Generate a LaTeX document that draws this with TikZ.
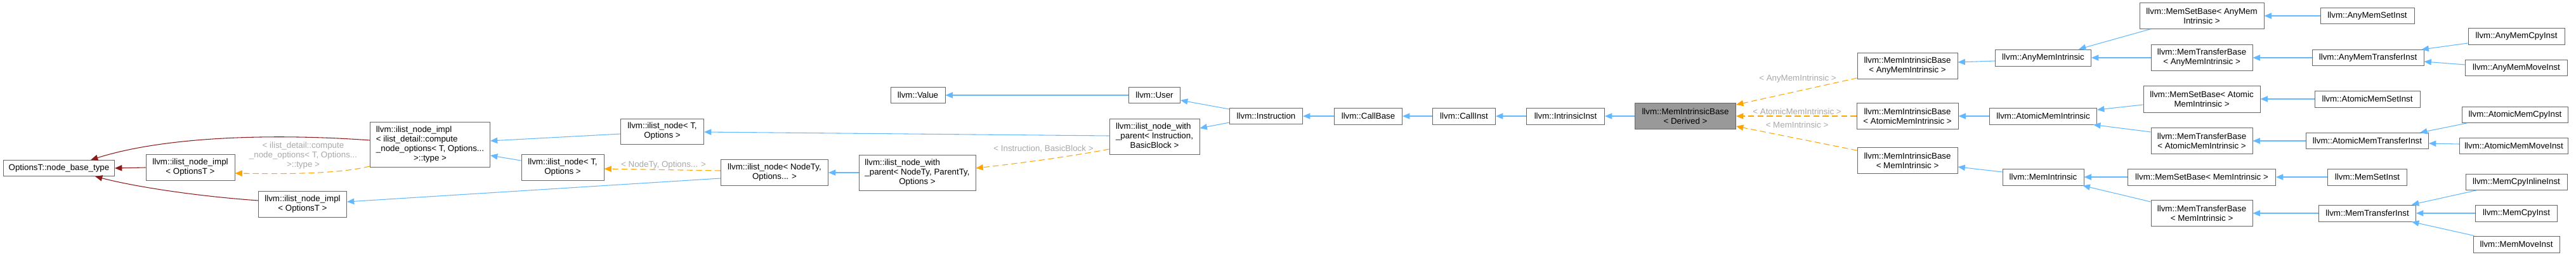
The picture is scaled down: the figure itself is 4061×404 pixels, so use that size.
\documentclass[tikz,border=0pt]{standalone}
\usepackage{fontspec}
\setmainfont{Liberation Sans}
\usetikzlibrary{arrows.meta,calc}
\definecolor{edgeblue}{HTML}{63B8FF}
\definecolor{edgeorange}{HTML}{FFA500}
\definecolor{edgered}{HTML}{8B1A1A}
\definecolor{boxborder}{HTML}{666666}
\definecolor{boxfill}{HTML}{999999}
\definecolor{labelgray}{HTML}{A8A8A8}
\newcommand{\lefttab}[2]{\begin{tabular}{@{}l@{}}#1\\\multicolumn{1}{@{}c@{}}{#2}\end{tabular}}
\begin{document}
\begin{tikzpicture}[x=0.75pt,y=-0.75pt,
  font=\fontsize{10pt}{11.25pt}\selectfont,
  cls/.style={draw=boxborder, line width=0.75pt, fill=white, inner sep=0pt, align=center},
  sz/.style 2 args={minimum width={#1*0.75pt}, minimum height={#2*0.75pt}},
  focus/.style={fill=boxfill},
  pub/.style={draw=edgeblue, line width=0.8pt, -{Triangle[length=8.5pt,width=7pt]}},
  tmpl/.style={draw=edgeorange, line width=0.8pt, dash pattern=on 7pt off 4pt, -{Triangle[length=8.5pt,width=7pt]}},
  prot/.style={draw=edgered, line width=0.8pt, -{Triangle[length=8.5pt,width=7pt]}},
  lbl/.style={text=labelgray, align=center, inner sep=0pt},
]
\useasboundingbox (0,0) rectangle (4061,404);

% ---- left part ----
\node[cls, sz={175}{25}] (optT) at (93,265) {OptionsT::node\_base\_type};
\node[cls, sz={140}{41}] (implA) at (300,264) {llvm::ilist\_node\_impl\\< OptionsT >};
\node[cls, sz={139}{41}] (implB) at (477,322) {llvm::ilist\_node\_impl\\< OptionsT >};
\node[cls, sz={189}{71}] (implC) at (678,228) {\lefttab{llvm::ilist\_node\_impl\\< ilist\_detail::compute\\\_node\_options< T, Options...}{>::type >}};
\node[cls, sz={131}{40}] (nodeA) at (1044,207) {llvm::ilist\_node< T,\\Options >};
\node[cls, sz={130}{41}] (nodeB) at (887,264) {llvm::ilist\_node< T,\\Options >};
\node[cls, sz={169}{41}] (nodeNT) at (1221,272) {llvm::ilist\_node< NodeTy,\\Options... >};
\node[cls, sz={184}{56}] (wpNT) at (1446,272) {\lefttab{llvm::ilist\_node\_with\\\_parent< NodeTy, ParentTy,}{Options >}};
\node[cls, sz={142}{56}] (wpIB) at (1820,215) {\lefttab{llvm::ilist\_node\_with\\\_parent< Instruction,}{BasicBlock >}};
\node[cls, sz={86}{25}] (value) at (1447,150) {llvm::Value};
\node[cls, sz={81}{25}] (user) at (1820,150) {llvm::User};
\node[cls, sz={115}{25}] (instr) at (1996,183) {llvm::Instruction};
\node[cls, sz={107}{26}] (callbase) at (2157,183) {llvm::CallBase};
\node[cls, sz={99}{26}] (callinst) at (2308,183) {llvm::CallInst};
\node[cls, sz={123}{26}] (intrinsic) at (2468,183) {llvm::IntrinsicInst};
\node[cls, focus, sz={159}{41}] (derived) at (2657,183) {llvm::MemIntrinsicBase\\< Derived >};

% ---- middle ----
\node[cls, sz={158}{41}] (mibAny) at (3007,104) {llvm::MemIntrinsicBase\\< AnyMemIntrinsic >};
\node[cls, sz={160}{41}] (mibAtomic) at (3007,183) {llvm::MemIntrinsicBase\\< AtomicMemIntrinsic >};
\node[cls, sz={158}{41}] (mibMem) at (3007,253) {llvm::MemIntrinsicBase\\< MemIntrinsic >};
\node[cls, sz={151}{26}] (anyMI) at (3221,91) {llvm::AnyMemIntrinsic};
\node[cls, sz={169}{26}] (atomicMI) at (3221,183) {llvm::AtomicMemIntrinsic};
\node[cls, sz={128}{26}] (memI) at (3221,279) {llvm::MemIntrinsic};

% ---- right ----
\node[cls, sz={196}{41}] (msbAny) at (3471,25) {llvm::MemSetBase< AnyMem\\Intrinsic >};
\node[cls, sz={148}{25}] (anySet) at (3732,25) {llvm::AnyMemSetInst};
\node[cls, sz={160}{41}] (mtbAny) at (3471,91) {llvm::MemTransferBase\\< AnyMemIntrinsic >};
\node[cls, sz={176}{25}] (anyTrans) at (3733,91) {llvm::AnyMemTransferInst};
\node[cls, sz={152}{26}] (anyCpy) at (3967,57) {llvm::AnyMemCpyInst};
\node[cls, sz={161}{25}] (anyMove) at (3967,107) {llvm::AnyMemMoveInst};
\node[cls, sz={184}{42}] (msbAtomic) at (3471,156) {llvm::MemSetBase< Atomic\\MemIntrinsic >};
\node[cls, sz={166}{26}] (atomicSet) at (3732,156) {llvm::AtomicMemSetInst};
\node[cls, sz={167}{25}] (atomicCpy) at (3965,181) {llvm::AtomicMemCpyInst};
\node[cls, sz={160}{41}] (mtbAtomic) at (3471,222) {llvm::MemTransferBase\\< AtomicMemIntrinsic >};
\node[cls, sz={193}{25}] (atomicTrans) at (3732,222) {llvm::AtomicMemTransferInst};
\node[cls, sz={171}{25}] (atomicMove) at (3963,230) {llvm::AtomicMemMoveInst};
\node[cls, sz={233}{26}] (msbMem) at (3471,279) {llvm::MemSetBase< MemIntrinsic >};
\node[cls, sz={125}{26}] (memSet) at (3732,279) {llvm::MemSetInst};
\node[cls, sz={160}{41}] (mtbMem) at (3471,336) {llvm::MemTransferBase\\< MemIntrinsic >};
\node[cls, sz={153}{26}] (memTrans) at (3732,336) {llvm::MemTransferInst};
\node[cls, sz={160}{25}] (memCpyInline) at (3967,287) {llvm::MemCpyInlineInst};
\node[cls, sz={129}{26}] (memCpy) at (3967,336) {llvm::MemCpyInst};
\node[cls, sz={136}{26}] (memMove) at (3967,385) {llvm::MemMoveInst};

% ---- labels ----
\node[lbl] (lblC) at (478,245) {< ilist\_detail::compute\\\_node\_options< T, Options...\\>::type >};
\node[lbl] (lblNT) at (1046,260) {< NodeTy, Options... >};
\node[lbl] (lblIB) at (1645,235) {< Instruction, BasicBlock >};
\node[lbl] (lblAny) at (2834,124) {< AnyMemIntrinsic >};
\node[lbl] (lblAtomic) at (2833,176) {< AtomicMemIntrinsic >};
\node[lbl] (lblMem) at (2833,197) {< MemIntrinsic >};

% ---- edges: left part ----
\draw[prot] (implA.west) -- (optT.east);
\draw[prot] ($(implC.west)+(0,-7)$) .. controls (430,210) and (260,215) .. ($(optT.north)+(50,0)$);
\draw[prot] ($(implB.west)+(0,-6)$) .. controls (320,310) and (220,296) .. ($(optT.south)+(57,0)$);
\draw[tmpl] ($(implC.west)+(0,34)$) .. controls (530,275) and (440,274) .. ($(implA.east)+(0,9)$);
\draw[pub] ($(nodeA.west)+(0,4)$) -- ($(implC.east)+(0,-6)$);
\draw[pub] ($(nodeB.west)+(0,-11)$) -- ($(implC.east)+(0,17)$);
\draw[tmpl] ($(nodeNT.west)+(0,-3)$) -- ($(nodeB.east)+(0,2)$);
\draw[pub] ($(nodeNT.west)+(0,9)$) -- ($(implB.east)+(0,-4)$);
\draw[pub] (wpNT.west) -- (nodeNT.east);
\draw[pub] ($(wpIB.west)+(0,-1)$) -- ($(nodeA.east)+(0,1)$);
\draw[tmpl] ($(wpIB.west)+(0,20)$) .. controls (1680,248) and (1600,258) .. ($(wpNT.east)+(0,-7)$);
\draw[pub] ($(instr.west)+(0,-11)$) -- ($(user.east)+(0,8)$);
\draw[pub] ($(instr.west)+(0,10)$) -- ($(wpIB.east)+(0,-13)$);
\draw[pub] (user.west) -- (value.east);
\draw[pub] (callbase.west) -- (instr.east);
\draw[pub] (callinst.west) -- (callbase.east);
\draw[pub] (intrinsic.west) -- (callinst.east);
\draw[pub] (derived.west) -- (intrinsic.east);

% ---- edges: middle ----
\draw[tmpl] ($(mibAny.west)+(0,19)$) -- ($(derived.east)+(0,-18)$);
\draw[tmpl] (mibAtomic.west) -- (derived.east);
\draw[tmpl] ($(mibMem.west)+(0,-16)$) -- ($(derived.east)+(0,16)$);
\draw[pub] ($(anyMI.west)+(0,5)$) -- ($(mibAny.east)+(0,-6)$);
\draw[pub] (atomicMI.west) -- (mibAtomic.east);
\draw[pub] ($(memI.west)+(0,-8)$) -- ($(mibMem.east)+(0,10)$);

% ---- edges: right ----
\draw[pub] ($(msbAny.south west)+(17,0)$) -- ($(anyMI.north)+(56,0)$);
\draw[pub] (mtbAny.west) -- (anyMI.east);
\draw[pub] (anySet.west) -- (msbAny.east);
\draw[pub] (anyTrans.west) -- (mtbAny.east);
\draw[pub] ($(anyCpy.west)+(0,11)$) -- ($(anyTrans.north east)+(-4,0)$);
\draw[pub] ($(anyMove.west)+(0,-5)$) -- ($(anyTrans.east)+(0,6)$);
\draw[pub] ($(msbAtomic.west)+(0,9)$) -- ($(atomicMI.east)+(0,-10)$);
\draw[pub] ($(mtbAtomic.west)+(0,-14)$) -- ($(atomicMI.south east)+(-6,0)$);
\draw[pub] (atomicSet.west) -- (msbAtomic.east);
\draw[pub] (atomicTrans.west) -- (mtbAtomic.east);
\draw[pub] ($(atomicCpy.south west)+(8,0)$) -- ($(atomicTrans.north east)+(-14,0)$);
\draw[pub] ($(atomicMove.west)+(0,-3)$) -- ($(atomicTrans.east)+(0,4)$);
\draw[pub] (msbMem.west) -- (memI.east);
\draw[pub] ($(mtbMem.west)+(0,-18)$) -- ($(memI.south east)+(-2,0)$);
\draw[pub] (memSet.west) -- (msbMem.east);
\draw[pub] (memTrans.west) -- (mtbMem.east);
\draw[pub] ($(memCpyInline.south west)+(17,0)$) -- ($(memTrans.north east)+(-7,0)$);
\draw[pub] (memCpy.west) -- (memTrans.east);
\draw[pub] ($(memMove.north west)+(2,0)$) -- ($(memTrans.south east)+(-7,0)$);
\end{tikzpicture}
\end{document}
